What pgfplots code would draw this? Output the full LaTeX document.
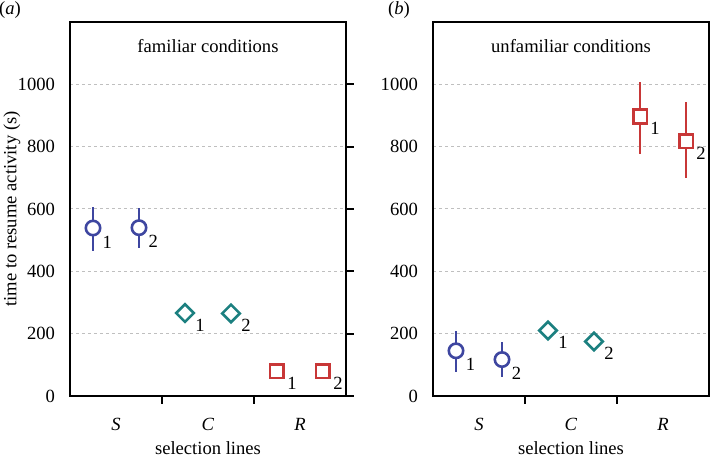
\documentclass[border=0pt]{standalone}
\usepackage{fontspec}
\setmainfont{Liberation Serif}
\usepackage{pgfplots}
\pgfplotsset{compat=1.18}
\definecolor{cblue}{RGB}{62,70,160}
\definecolor{cteal}{RGB}{28,128,128}
\definecolor{cred}{RGB}{200,55,55}
\newcommand{\fs}{\fontsize{9.3}{11}\selectfont}
\pgfplotsset{
  panel/.style={
    scale only axis, width=138pt, height=187pt,
    xmin=0, xmax=3, ymin=0, ymax=1200,
    axis line style={line width=0.9pt},
    xtick={1,2}, xticklabels={},
    extra x ticks={0.5,1.5,2.5},
    extra x tick labels={\textit{S},\textit{C},\textit{R}},
    extra x tick style={major tick length=0pt, grid=none, tick style={draw=none}},
    tick align=outside,
    xtick pos=bottom,
    ytick pos=right, yticklabel pos=left,
    major tick length=4pt,
    tick style={line width=0.9pt, black},
    ytick={0,200,400,600,800,1000},
    ymajorgrids,
    grid style={gray!50, dash pattern=on 1.5pt off 1.5pt, line width=0.5pt},
    tick label style={font=\fs},
    xticklabel style={yshift=-7.5pt},
    /pgf/number format/assume math mode=true,
    /pgf/number format/1000 sep={},
    clip=false,
  },
  pts/.style={
    only marks, line width=1.3pt,
    point meta=explicit symbolic,
    nodes near coords,
    nodes near coords style={black, font=\fs, anchor=center},
    error bars/y dir=both, error bars/y explicit, error bars/error mark=none,
    error bars/error bar style={line width=1pt},
  },
  circ/.style={pts, cblue, mark=*, mark size=3.6pt, mark options={fill=white, draw=cblue},
    nodes near coords style={xshift=7.2pt, yshift=-7pt}},
  diam/.style={pts, cteal, mark=square*, mark size=3.1pt, mark options={fill=white, draw=cteal, rotate=45},
    nodes near coords style={xshift=7.5pt, yshift=-6pt}},
  sqr/.style={pts, cred, mark=square*, mark size=3.4pt, mark options={fill=white, draw=cred},
    nodes near coords style={xshift=7.5pt, yshift=-6pt}},
}
\begin{document}
\begin{tikzpicture}
\begin{axis}[panel, at={(0,0)}, anchor=south west]
\addplot[circ] table[x=x, y=y, y error plus=ep, y error minus=em, meta=lab] {
x y ep em lab
0.25 539 69 73 1
0.75 540 64 66 2
};
\addplot[diam] table[x=x, y=y, y error plus=ep, y error minus=em, meta=lab] {
x y ep em lab
1.25 266 0 0 1
1.75 265 0 0 2
};
\addplot[sqr] table[x=x, y=y, y error plus=ep, y error minus=em, meta=lab] {
x y ep em lab
2.25 80 0 0 1
2.75 80 0 0 2
};
\node[font=\fs] at (rel axis cs:0.5,0.936) {familiar conditions};
\node[font=\fs, rotate=90] at ([xshift=-29pt]rel axis cs:0,0.5) {time to resume activity (s)};
\node[font=\fs] at ([yshift=-26pt]rel axis cs:0.5,0) {selection lines};
\node[font=\fs] at ([xshift=-30pt,yshift=6pt]rel axis cs:0,1) {(\textit{a})};
\end{axis}
\begin{axis}[panel, at={(181.5pt,0)}, anchor=south west]
\addplot[circ] table[x=x, y=y, y error plus=ep, y error minus=em, meta=lab] {
x y ep em lab
0.25 145 65 67 1
0.75 117 57 57 2
};
\addplot[diam] table[x=x, y=y, y error plus=ep, y error minus=em, meta=lab] {
x y ep em lab
1.25 210 0 0 1
1.75 175 0 0 2
};
\addplot[sqr] table[x=x, y=y, y error plus=ep, y error minus=em, meta=lab] {
x y ep em lab
2.25 897 110 119 1
2.75 818 124 120 2
};
\node[font=\fs] at (rel axis cs:0.5,0.936) {unfamiliar conditions};
\node[font=\fs] at ([yshift=-26pt]rel axis cs:0.5,0) {selection lines};
\node[font=\fs] at ([xshift=-17pt,yshift=6pt]rel axis cs:0,1) {(\textit{b})};
\end{axis}
\pgfresetboundingbox
\path[use as bounding box] (-35pt,-31.5pt) rectangle (320pt,198pt);
\end{tikzpicture}
\end{document}
